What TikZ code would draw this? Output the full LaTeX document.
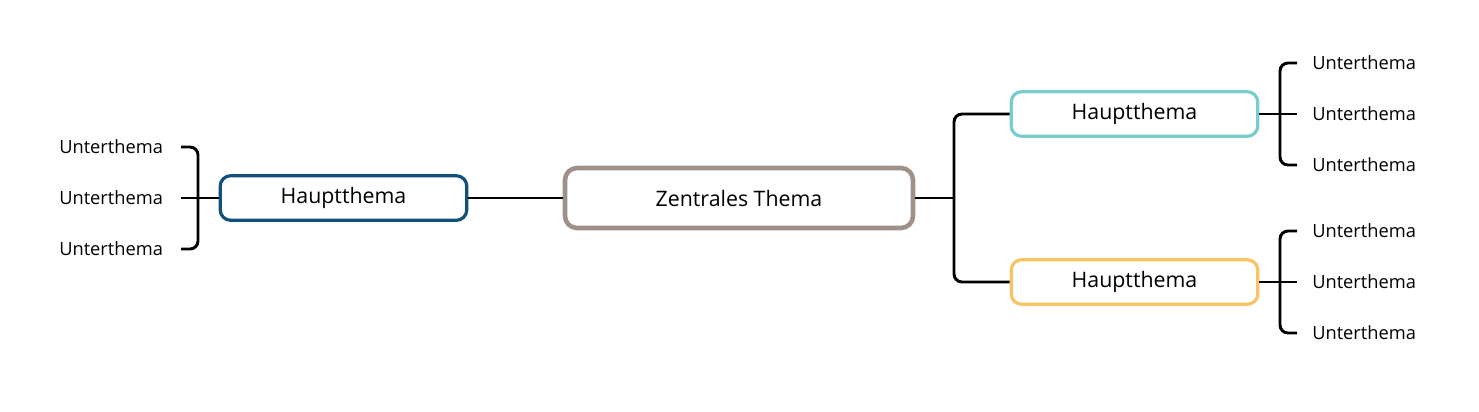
\documentclass[tikz,border=0pt]{standalone}
\usepackage{fontspec}
\setmainfont{Open Sans}
\definecolor{cgray}{HTML}{A0908A}
\definecolor{cblue}{HTML}{11507A}
\definecolor{cteal}{HTML}{78CCCC}
\definecolor{corange}{HTML}{F9C262}
\tikzset{
  central/.style={draw=cgray, line width=3.4pt, rounded corners=9pt, minimum width=261pt, minimum height=45pt, inner sep=0pt, font=\fontsize{16}{19}\selectfont, fill=white},
  mainbox/.style={line width=2.4pt, rounded corners=8pt, minimum width=185pt, minimum height=33.5pt, inner sep=0pt, font=\fontsize{16}{19}\selectfont, fill=white},
  subtxt/.style={anchor=west, inner sep=0pt, font=\fontsize{13.7}{16}\selectfont},
  conn/.style={line width=2.2pt, black, rounded corners=6pt},
}
\begin{document}
\begin{tikzpicture}[x=0.75pt,y=-0.75pt]
\useasboundingbox (0,0) rectangle (1479,411);
% nodes
\node[central] (c) at (739,198) {Zentrales Thema};
\node[mainbox, draw=cblue] (l) at (343.5,198) {Hauptthema};
\node[mainbox, draw=cteal] (rt) at (1134.5,114) {Hauptthema};
\node[mainbox, draw=corange] (rb) at (1134.5,282) {Hauptthema};
% subtopics
\node[subtxt] (l1) at (59,147) {Unterthema};
\node[subtxt] (l2) at (59,198) {Unterthema};
\node[subtxt] (l3) at (59,249) {Unterthema};
\node[subtxt] (a1) at (1312,63) {Unterthema};
\node[subtxt] (a2) at (1312,114) {Unterthema};
\node[subtxt] (a3) at (1312,165) {Unterthema};
\node[subtxt] (b1) at (1312,231) {Unterthema};
\node[subtxt] (b2) at (1312,282) {Unterthema};
\node[subtxt] (b3) at (1312,333) {Unterthema};
% connector points
\coordinate (rj) at (954,198);
% connectors
\draw[conn] (c.west) -- (l.east);
\draw[conn] (l.west) -- (181,198);
\draw[conn] (181,147) -- (198,147) -- (198,249) -- (181,249);
\draw[conn] (c.east) -- (rj);
\draw[conn] (rt.west) -- (954,114) -- (954,282) -- (rb.west);
\draw[conn] (rt.east) -- (1297,114);
\draw[conn] (1297,63) -- (1280,63) -- (1280,165) -- (1297,165);
\draw[conn] (rb.east) -- (1297,282);
\draw[conn] (1297,231) -- (1280,231) -- (1280,333) -- (1297,333);
\end{tikzpicture}
\end{document}
